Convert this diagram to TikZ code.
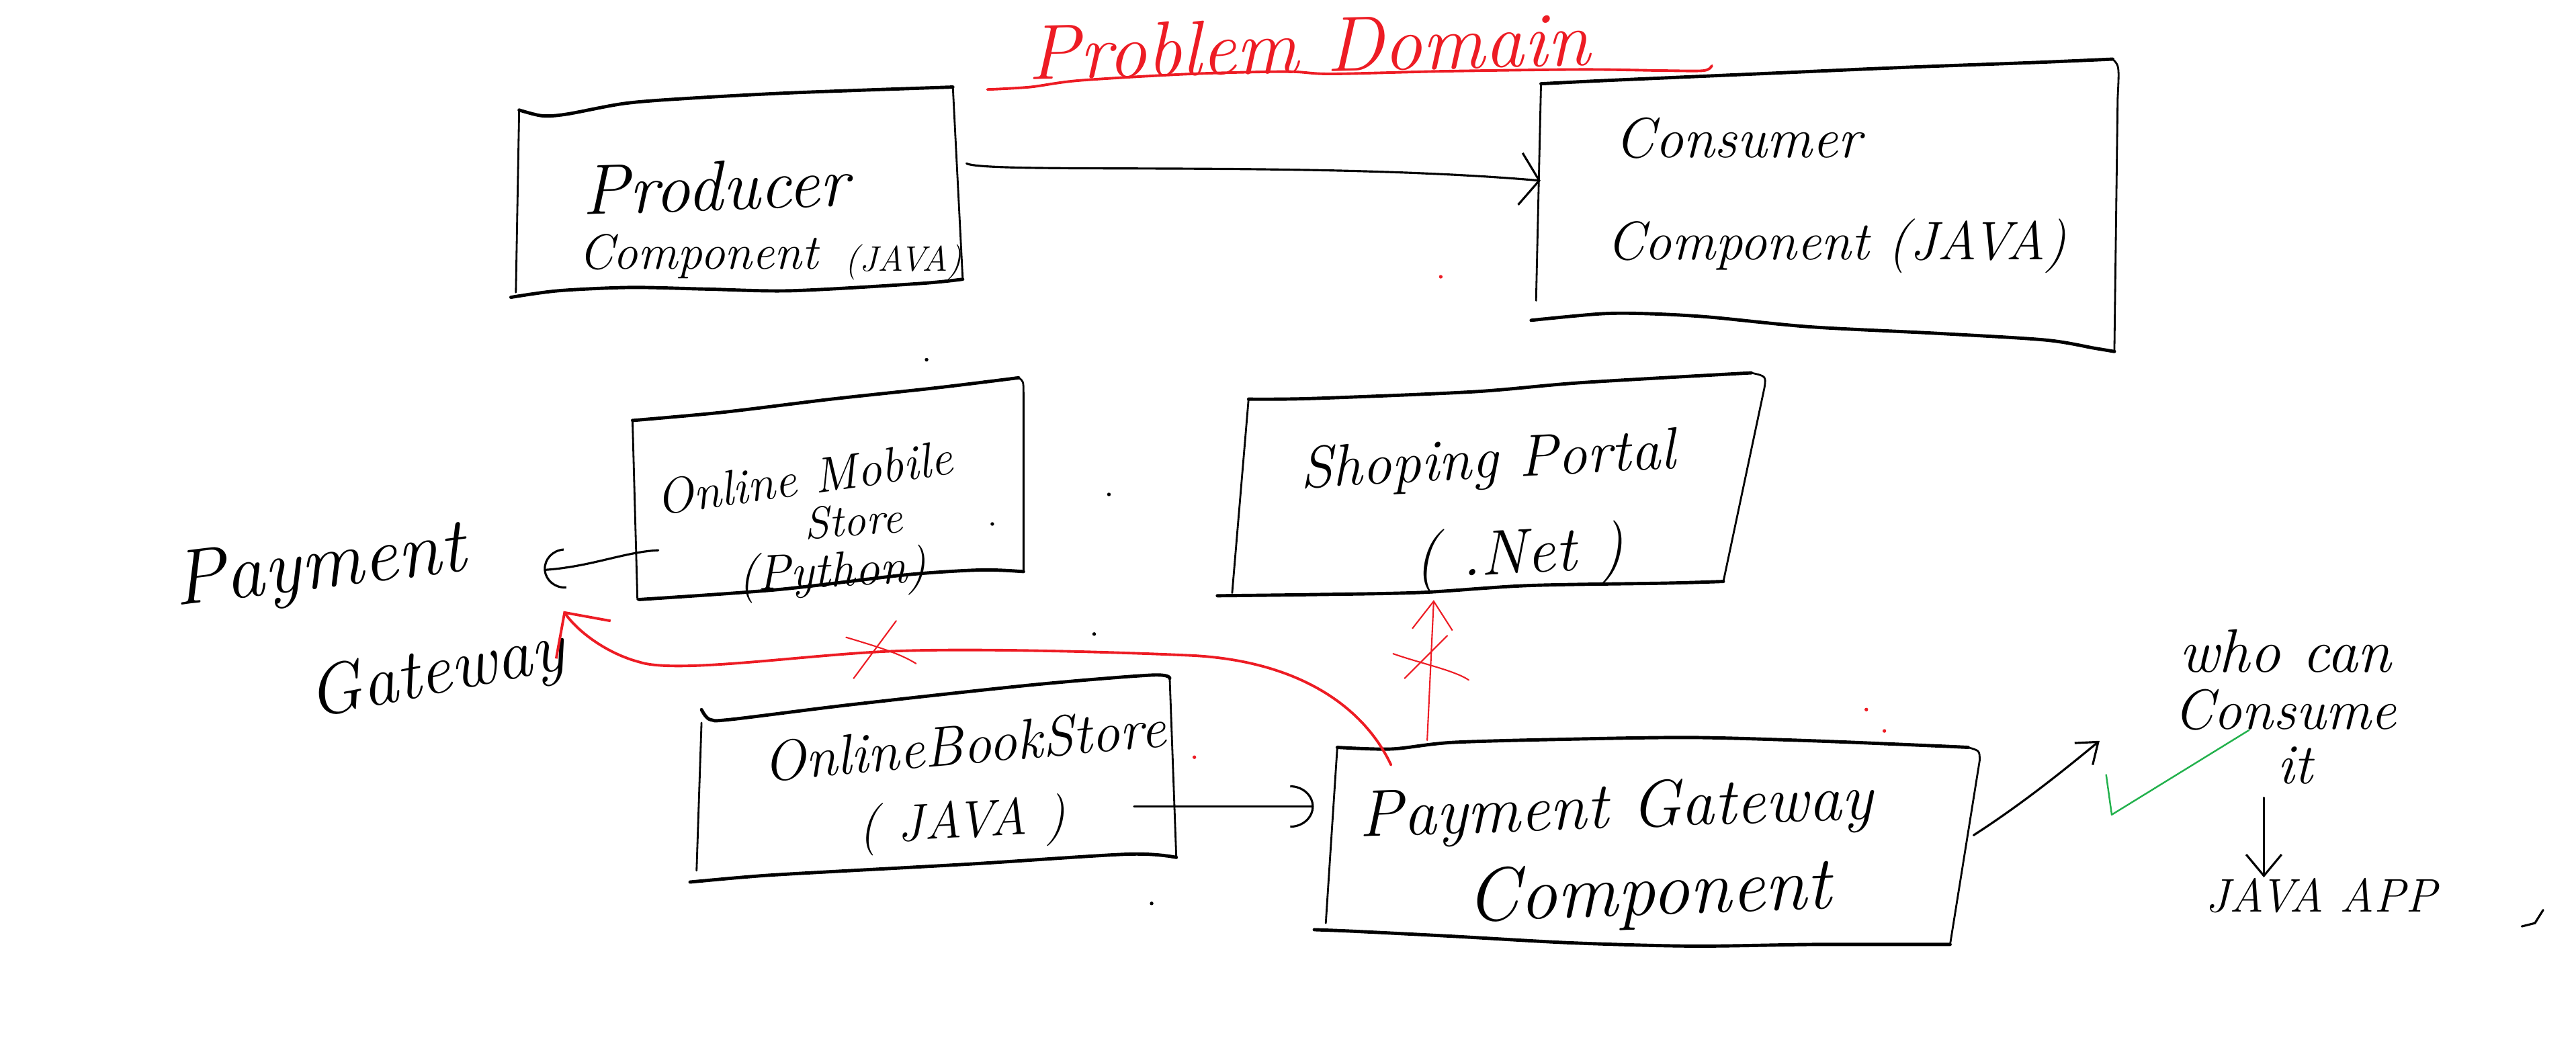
\documentclass[tikz,border=0pt]{standalone}
\usepackage{tikz}
\usetikzlibrary{arrows.meta}
\usetikzlibrary{calc}
\usetikzlibrary{fit}
\definecolor{penred}{RGB}{237,28,36}
\definecolor{pengreen}{RGB}{34,177,76}
\newcommand{\handfont}[1]{\fontsize{#1}{#1}\selectfont\itshape}
\tikzset{
	edge/.style={line width=1.4pt, line cap=round, line join=round},
	side/.style={line width=0.8pt, line cap=round},
	pen/.style={line width=0.9pt, line cap=round},
	redpen/.style={draw=penred, line width=1.1pt, line cap=round},
	thinred/.style={draw=penred, line width=0.6pt, line cap=round},
	frame/.style={inner sep=0pt},
	hand/.style={font=\handfont{#1}, inner sep=0pt, anchor=base},
}

\begin{document}
\begin{tikzpicture}[x=0.02445cm, y=-0.02445cm]
	\useasboundingbox (0,0) rectangle (1568,641.3);
	\node[hand=33pt, text=penred, rotate=1.5] (title) at (797,44) {Problem Domain};
	\draw[redpen] plot[smooth] coordinates {(601,54.5) (627,53) (657,49) (725,45) (783,43.6) (810,45) (878,43.4) (963,42.3) (1013,43) (1037,43) (1042,40)};

	\node[frame, fit={(311,53) (588,181)}] (producer) {};
	\draw[edge] plot[smooth] coordinates {(316,67) (330,70.5) (345,69.5) (380,63) (417,60) (482,56.5) (580,53)};
	\draw[side] (580,53) -- (586,170);
	\draw[edge] plot[smooth] coordinates {(586,170) (560,172.6) (482,177) (430,176) (384,175) (340,177) (311,181)};
	\draw[side] (316,67) -- (314,178);
	\node[hand=30pt, rotate=2] (prodname) at (436,128) {Producer};
	\node[hand=21pt] (prodsub) at (425,164) {Component};
	\node[hand=15pt] (prodlang) at (550,165) {(JAVA)};

	\node[frame, fit={(932,36) (1289,214)}] (consumer) {};
	\draw[edge] plot[smooth] coordinates {(938,51) (978,49) (1069,45) (1160,41) (1240,38) (1286,36)};
	\draw[side] (1286,36) .. controls (1290,40) .. (1289,60) -- (1287,214);
	\draw[edge] plot[smooth] coordinates {(1287,214) (1275,212) (1245,207) (1180,203) (1102,199) (1040,193) (1004,191) (975,191) (932,195)};
	\draw[side] (938,51) -- (935,183);
	\node[hand=24pt] (consname) at (1058,96) {Consumer};
	\node[hand=23pt] (conssub) at (1118,158) {Component (JAVA)};

	\node[frame, fit={(385,230) (623,365)}] (mobile) {};
	\draw[edge] plot[smooth] coordinates {(385,256) (440,251) (506,243) (571,236) (620,230)};
	\draw[side] (620,230) .. controls (623,232) .. (623,240) -- (623,348);
	\draw[edge] plot[smooth] coordinates {(623,348) (597,347) (551,350) (473,359) (389,365)};
	\draw[side] (385,256) -- (388,365);
	\node[hand=21pt, rotate=8] (mobname) at (491,301) {Online Mobile};
	\node[hand=19pt, rotate=4] (mobstore) at (520,326) {Store};
	\node[hand=21pt, rotate=3] (moblang) at (507,357) {(Python)};

	\node[frame, fit={(750,227) (1076,363)}] (portal) {};
	\draw[edge] plot[smooth] coordinates {(760,243) (799,242.6) (897,238.5) (962,233) (1066,227)};
	\draw[side] (1066,227) .. controls (1075,229) .. (1074,236) -- (1049,354);
	\draw[edge] plot[smooth] coordinates {(1049,354) (1015,355) (930,356.5) (865,360.7) (799,362) (741,362.7)};
	\draw[side] (760,243) -- (750,361);
	\node[hand=25pt, rotate=3] (portname) at (906,291) {Shoping Portal};
	\node[hand=27pt, rotate=3] (portlang) at (925,349) {( .Net )};

	\node[hand=33pt, rotate=7] (paytext) at (196,358) {Payment};
	\node[hand=30pt, rotate=11] (gatetext) at (268,422) {Gateway};
	\coordinate (payIn) at (331,347);
	\coordinate (gateIn) at (343,372);

	\node[frame, fit={(420,411) (716,537)}] (bookstore) {};
	\draw[edge] plot[smooth] coordinates {(427,432) (432,438) (445,438) (518,429) (628,417) (701,411) (712,413)};
	\draw[side] (712,413) -- (716,522);
	\draw[edge] plot[smooth] coordinates {(716,522) (687,520) (591,526) (482,532) (453,534) (420,537)};
	\draw[side] (427,440) -- (424,530);
	\node[hand=24pt, rotate=5] (bookname) at (588,465) {OnlineBookStore};
	\node[hand=22pt, rotate=3] (booklang) at (586,510) {( JAVA )};

	\node[frame, fit={(800,449) (1205,576)}] (gateway) {};
	\draw[edge] plot[smooth] coordinates {(814,455) (847,456) (884,452) (956,450) (1030,449) (1103,451) (1176,454) (1198,455)};
	\draw[side] (1198,455) .. controls (1205,457) .. (1205,463) -- (1187,575);
	\draw[edge] plot[smooth] coordinates {(1187,575) (1168,575) (1103,575) (1030,576) (956,574) (884,570) (825,567) (800,566)};
	\draw[side] (814,455) -- (807,562);
	\node[hand=28pt, rotate=2] (gatename) at (984,504) {Payment Gateway};
	\node[hand=32pt, rotate=2] (gatesub) at (1004,557) {Component};

	\node[hand=26pt] (whotext) at (1391,409) {who can};
	\node[hand=24pt] (consumetext) at (1391,444) {Consume};
	\node[hand=24pt] (ittext) at (1397,477) {it};
	\node[hand=20pt] (javaapp) at (1413,555) {JAVA APP};
	\coordinate (whoIn) at (1278,451);

	\draw[pen, -{Straight Barb[length=8pt,width=22pt]}] (producer.east |- 0,99.5) .. controls (600,106) and (800,98) .. ($(consumer.west |- 0,110)+(6,0)$);
	\draw[pen, -{Arc Barb[length=9pt,width=17pt]}] ($(mobile.west |- 0,335)+(16,0)$) .. controls (380,336) and (360,345) .. (payIn);
	\draw[pen, -{Arc Barb[length=10pt,width=18pt]}] ($(bookstore.east |- 0,491)+(-26,0)$) -- (gateway.west |- 0,491);
	\draw[pen, -{Straight Barb[length=8pt,width=12pt]}] ($(gateway.east)+(-4,-4)$) .. controls (1230,490) and (1255,470) .. (whoIn);
	\draw[pen, -{Straight Barb[length=9pt,width=15pt]}] (1378,0 |- ittext.south) ++(0,8) -- (1378,0 |- javaapp.north);

	\draw[redpen, -{Straight Barb[length=14pt,width=28pt]}] ($(gateway.north west)+(47,17)$) .. controls (830,430) and (790,402) .. (724,399) .. controls (680,397) and (580,394) .. (532,397) .. controls (480,400) and (410,410) .. (389,403) .. controls (370,398) and (352,385) .. (gateIn);
	\draw[thinred, -{Straight Barb[length=12pt,width=17pt]}] ($(gateway.north west)+(69,2)$) -- ($(portal.south west)+(123,2)$);
	\draw[thinred] (545.5,378) -- (519.6,413);
	\draw[thinred] (515,388) .. controls (535,394) and (548,398) .. (557.6,404);
	\draw[thinred] (848,398) .. controls (865,404) and (885,408) .. (894,414);
	\draw[thinred] (881,387) -- (855,413);

	\draw[draw=pengreen, line width=0.7pt, line cap=round, line join=round] (1282,471.7) -- (1285.4,496) -- (1369,444.5);

	\foreach \dx/\dy in {675/301, 604/319, 666/386, 564/219, 701/550}
		\fill (\dx,\dy) circle (1.1);
	\foreach \dx/\dy in {877/168.5, 727/461, 1147/445, 1136/432}
		\fill[penred] (\dx,\dy) circle (1.1);
	\draw[pen] (1548,554) -- (1543,562) -- (1535,564);
\end{tikzpicture}
\end{document}
